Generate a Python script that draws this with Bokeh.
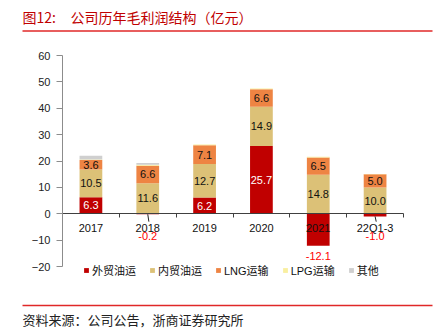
from bokeh.plotting import figure
from bokeh.models import (Range1d, LinearAxis, FixedTicker, Label, BoxAnnotation,
                          Legend, LegendItem)
from bokeh.core.properties import value
from bokeh.embed import file_html
from bokeh.resources import INLINE

categories = ["2017", "2018", "2019", "2020", "2021", "22Q1-3"]
series_names = ["外贸油运", "内贸油运", "LNG运输", "LPG运输", "其他"]
foreign_oil = [6.3, -0.2, 6.2, 25.7, -12.1, -1.0]
domestic_oil = [10.5, 11.6, 12.7, 14.9, 14.8, 10.0]
lng = [3.6, 6.6, 7.1, 6.6, 6.5, 5.0]
lpg = [0.2, 0.4, 0.3, 0.3, 0.3, 0.1]
other = [1.4, 0.6, 0.0, 0.0, 0.0, 0.0]
y_ticks = [-20, -10, 0, 10, 20, 30, 40, 50, 60]
title_prefix = "图12:"
title_text = "公司历年毛利润结构（亿元）"
source_text = "资料来源：公司公告，浙商证券研究所"

colors = ["#C00000", "#DCC177", "#EE8443", "#F9EFA0", "#CFCFCF"]
NUM_FONT = "Liberation Sans"
CJK_FONT = "Noto Sans CJK SC"
MIX_FONT = "Liberation Sans, Noto Sans CJK SC"

W, H = 439, 334
# plot area on the canvas (pixels)
PL, PR, PT, PB = 62, 403, 55, 266
Y0, Y1 = -20, 60
n = len(categories)
X0, X1 = -0.5, n - 0.5

# extend ranges so the frame fills the whole canvas
ux = (X1 - X0) / (PR - PL)
uy = (Y1 - Y0) / (PB - PT)
x_range = Range1d(X0 - PL * ux, X1 + (W - PR) * ux)
y_range = Range1d(Y0 - (H - PB) * uy, Y1 + PT * uy)

p = figure(width=W, height=H, output_backend="svg", toolbar_location=None,
           x_range=x_range, y_range=y_range,
           min_border=0, min_border_left=0, min_border_right=0, min_border_top=0,
           min_border_bottom=0, x_axis_type=None, y_axis_type=None)
p.outline_line_color = None
p.background_fill_color = "white"
p.border_fill_color = "white"

xs = list(range(n))

# y axis
yaxis = LinearAxis(ticker=FixedTicker(ticks=y_ticks, minor_ticks=[]),
                   fixed_location=X0, bounds=(Y0, Y1),
                   axis_line_color="#8C8C8C", major_tick_line_color="#8C8C8C",
                   major_tick_out=6, major_tick_in=0, minor_tick_out=0,
                   minor_tick_line_color=None, major_label_standoff=6,
                   major_label_text_font_size="11px", major_label_text_font=NUM_FONT,
                   major_label_text_color="#222222")
p.add_layout(yaxis, "left")

# stacked bars (positives up from 0, negatives down from 0)
series = [foreign_oil, domestic_oil, lng, lpg, other]
pos_base = [0.0] * n
neg_base = [0.0] * n
renderers = []
segments = []
for name, vals, col in zip(series_names, series, colors):
    bottoms, tops = [], []
    for i, v in enumerate(vals):
        if v >= 0:
            b = pos_base[i]; t = b + v; pos_base[i] = t
        else:
            b = neg_base[i]; t = b + v; neg_base[i] = t
        bottoms.append(b); tops.append(t)
    r = p.vbar(x=xs, bottom=bottoms, top=tops, width=0.4, fill_color=col,
               line_color=None)
    renderers.append(r)
    segments.append((bottoms, tops))

# x axis at y = 0
xaxis = LinearAxis(ticker=FixedTicker(ticks=xs, minor_ticks=[i - 0.5 for i in range(n + 1)]),
                   major_label_overrides={i: c for i, c in enumerate(categories)},
                   fixed_location=0, bounds=(X0, X1), axis_line_color="#404040",
                   major_tick_line_color=None, major_tick_out=0, major_tick_in=0,
                   minor_tick_out=4, minor_tick_in=0, minor_tick_line_color="#404040",
                   major_label_standoff=4, major_label_text_font_size="11px",
                   major_label_text_font=NUM_FONT, major_label_text_color="#111111")
p.add_layout(xaxis, "below")

# data labels
for k in range(3):
    vals = series[k]
    bottoms, tops = segments[k]
    lx, ly, lt = [], [], []
    nx, ny, nt = [], [], []
    for i, v in enumerate(vals):
        if v >= 0:
            lx.append(i); ly.append((bottoms[i] + tops[i]) / 2); lt.append(f"{v:.1f}")
        else:
            nx.append(i); ny.append(min(v, -4.5) - 4); nt.append(f"{v:.1f}")
    p.text(x=lx, y=ly, text=lt, text_align="center", text_baseline="middle",
           text_font=value(NUM_FONT), text_font_size="11px",
           text_color="white" if k == 0 else "#111111")
    if nx:
        small = [(x, vals[x]) for x in nx if abs(vals[x]) < 5]
        if small:
            p.segment(x0=[s[0] for s in small], y0=[s[1] for s in small],
                      x1=[s[0] + 0.02 for s in small], y1=[-3] * len(small),
                      line_color="#222222", line_width=1)
        p.text(x=nx, y=ny, text=nt, text_align="center", text_baseline="middle",
               text_font=value(NUM_FONT), text_font_size="11px", text_color="#FF0000")

# legend (screen coords relative to canvas bottom-left)
legend = Legend(items=[LegendItem(label=nm, renderers=[r]) for nm, r in zip(series_names, renderers)],
                orientation="horizontal", location=(83, H - 278), padding=0, margin=0,
                spacing=13, glyph_width=6, glyph_height=6, label_standoff=3,
                label_height=12, label_text_font_size="11px", label_text_font=MIX_FONT,
                label_text_color="#111111", border_line_color=None,
                background_fill_alpha=0)
p.add_layout(legend)

def sy(cy):
    return H - cy

p.add_layout(Label(x=22, y=sy(16), x_units="screen", y_units="screen",
                   text=title_prefix, text_font=CJK_FONT, text_font_size="14px",
                   text_color="#C00000", text_baseline="middle"))
p.add_layout(Label(x=70, y=sy(16), x_units="screen", y_units="screen",
                   text=title_text, text_font=CJK_FONT, text_font_size="14px",
                   text_color="#C00000", text_baseline="middle"))
p.add_layout(Label(x=22, y=sy(319), x_units="screen", y_units="screen",
                   text=source_text, text_font=CJK_FONT, text_font_size="13px",
                   text_color="#222222", text_baseline="middle"))
for cy in (30.5, 305):
    p.add_layout(BoxAnnotation(left=22, right=432, top=sy(cy - 0.8), bottom=sy(cy + 0.8),
                               left_units="screen", right_units="screen",
                               top_units="screen", bottom_units="screen",
                               fill_color="#E02828", fill_alpha=1, line_color=None))

open("out.html", "w").write(file_html(p, INLINE))
